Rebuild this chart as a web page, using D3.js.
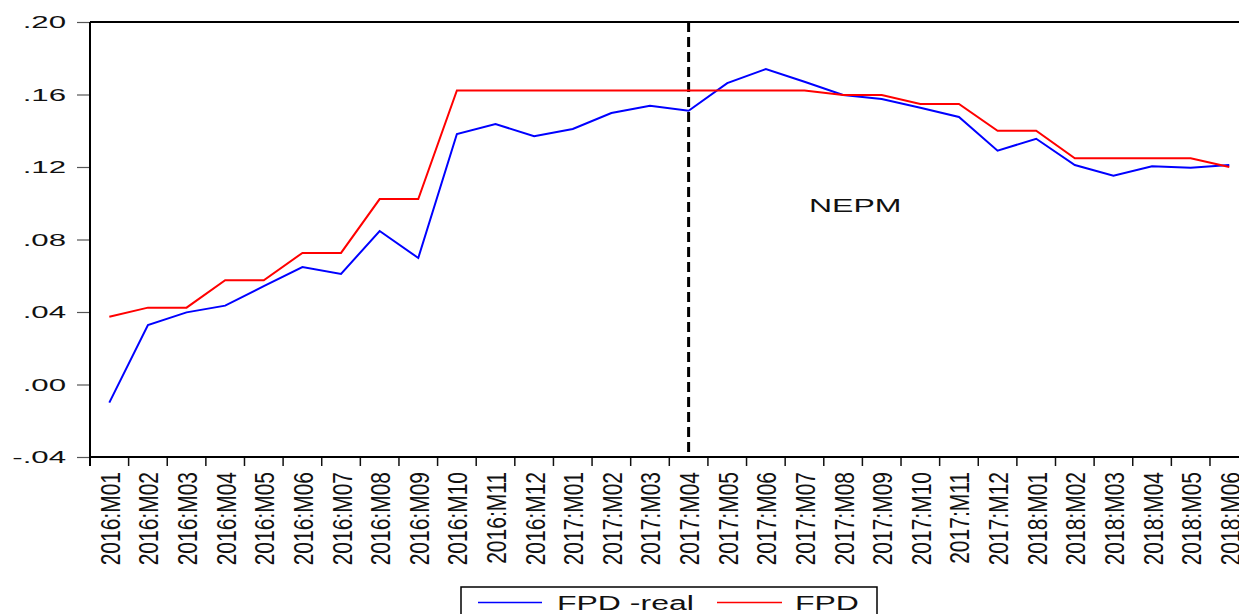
<!DOCTYPE html>
<html>
<head>
<meta charset="utf-8">
<script src="https://cdn.jsdelivr.net/npm/d3@7"></script>
<style>
  html, body { margin: 0; padding: 0; background: #fff; overflow: hidden; }
  svg { display: block; font-family: "Liberation Sans", Arial, sans-serif; }
</style>
</head>
<body>
<svg id="chart" width="1239" height="614"></svg>
<script>
// Monthly periods
const months = [
  "2016:M01","2016:M02","2016:M03","2016:M04","2016:M05","2016:M06",
  "2016:M07","2016:M08","2016:M09","2016:M10","2016:M11","2016:M12",
  "2017:M01","2017:M02","2017:M03","2017:M04","2017:M05","2017:M06",
  "2017:M07","2017:M08","2017:M09","2017:M10","2017:M11","2017:M12",
  "2018:M01","2018:M02","2018:M03","2018:M04","2018:M05","2018:M06"
];

// FPD -real (blue)
const fpdReal = [
  -0.010, 0.0328, 0.0398, 0.0435, 0.0543, 0.0648,
  0.0610, 0.0847, 0.0698, 0.1382, 0.1437, 0.1370,
  0.1410, 0.1498, 0.1538, 0.1510, 0.1663, 0.1740,
  0.1670, 0.1597, 0.1575, 0.1527, 0.1476, 0.1290,
  0.1356, 0.1211, 0.1152, 0.1204, 0.1196, 0.1211
];

// FPD (red)
const fpd = [
  0.0374, 0.0424, 0.0424, 0.0575, 0.0575, 0.0726,
  0.0726, 0.1023, 0.1023, 0.1622, 0.1622, 0.1622,
  0.1622, 0.1622, 0.1622, 0.1622, 0.1622, 0.1622,
  0.1622, 0.1597, 0.1597, 0.1548, 0.1548, 0.1400,
  0.1400, 0.1248, 0.1248, 0.1248, 0.1248, 0.1200
];

const yTicks = [-0.04, 0.00, 0.04, 0.08, 0.12, 0.16, 0.20];
const yTickLabels = ["-.04", ".00", ".04", ".08", ".12", ".16", ".20"];
const breakMonth = "2017:M04";
const breakLabel = "NEPM";
const seriesNames = ["FPD -real", "FPD"];
const seriesColors = ["#0000ff", "#ff0000"];

const svg = d3.select("#chart");
const plotLeft = 90, plotTop = 22, plotBottom = 457;
const bandW = 38.62;
const plotRight = plotLeft + months.length * bandW;

const x = d3.scaleBand().domain(months).range([plotLeft, plotRight]).paddingInner(0).paddingOuter(0);
const y = d3.scaleLinear().domain([-0.04, 0.20]).range([plotBottom, plotTop]);
const cx = m => x(m) + x.bandwidth() / 2;

// Y axis ticks and labels (wide face)
const yAxis = d3.axisLeft(y).tickValues(yTicks).tickSize(13).tickFormat("");
const gy = svg.append("g").attr("transform", `translate(${plotLeft},0)`).call(yAxis);
gy.select(".domain").remove();
gy.selectAll(".tick line").attr("stroke", "#555").attr("stroke-width", 1.2);

svg.append("g").selectAll("text").data(yTicks).join("text")
  .attr("transform", d => `translate(66,${y(d) + 6}) scale(1.95,1)`)
  .attr("text-anchor", "end")
  .attr("font-size", 16)
  .attr("fill", "#111")
  .text((d, i) => yTickLabels[i]);

// X axis ticks on band boundaries
const boundaries = d3.range(months.length + 1).map(i => plotLeft + i * x.step());
svg.append("g").selectAll("line").data(boundaries).join("line")
  .attr("x1", d => d).attr("x2", d => d)
  .attr("y1", plotBottom).attr("y2", plotBottom + 9)
  .attr("stroke", "#111").attr("stroke-width", 1.5);

// Rotated month labels (glyphs widened across the text line)
svg.append("g").selectAll("text").data(months).join("text")
  .attr("transform", d => `translate(${cx(d) + 10.5},472) rotate(-90) scale(1,1.3)`)
  .attr("text-anchor", "end")
  .attr("font-size", 21)
  .attr("fill", "#111")
  .text(d => d);

// Plot frame
svg.append("line").attr("x1", plotLeft).attr("x2", plotRight).attr("y1", plotTop).attr("y2", plotTop)
  .attr("stroke", "#000").attr("stroke-width", 2);
svg.append("line").attr("x1", plotLeft).attr("x2", plotRight).attr("y1", plotBottom).attr("y2", plotBottom)
  .attr("stroke", "#000").attr("stroke-width", 2);
svg.append("line").attr("x1", plotLeft).attr("x2", plotLeft).attr("y1", plotTop).attr("y2", plotBottom + 9)
  .attr("stroke", "#000").attr("stroke-width", 2);

// Break line
svg.append("line")
  .attr("x1", cx(breakMonth)).attr("x2", cx(breakMonth))
  .attr("y1", plotTop).attr("y2", plotBottom)
  .attr("stroke", "#000").attr("stroke-width", 3)
  .attr("stroke-dasharray", "10,5");

svg.append("text")
  .attr("transform", "translate(809,212) scale(1.72,1)")
  .attr("font-size", 18.6)
  .attr("fill", "#111")
  .text(breakLabel);

// Series lines
const line = d3.line().x((d, i) => cx(months[i])).y(d => y(d));
[fpdReal, fpd].forEach((s, k) => {
  svg.append("path").datum(s)
    .attr("d", line)
    .attr("fill", "none")
    .attr("stroke", seriesColors[k])
    .attr("stroke-width", 2)
    .attr("stroke-linejoin", "miter");
});

// Legend
const lg = svg.append("g");
lg.append("rect").attr("x", 461).attr("y", 587).attr("width", 416).attr("height", 40)
  .attr("fill", "#fff").attr("stroke", "#000").attr("stroke-width", 1.5);
const legendItems = [
  { x1: 478, x2: 542, tx: 557 },
  { x1: 717, x2: 782, tx: 795 }
];
legendItems.forEach((it, k) => {
  lg.append("line").attr("x1", it.x1).attr("x2", it.x2).attr("y1", 602.5).attr("y2", 602.5)
    .attr("stroke", seriesColors[k]).attr("stroke-width", 1.5);
  lg.append("text")
    .attr("transform", `translate(${it.tx},610) scale(1.6,1)`)
    .attr("font-size", 20)
    .attr("fill", "#111")
    .text(seriesNames[k]);
});
</script>
</body>
</html>
